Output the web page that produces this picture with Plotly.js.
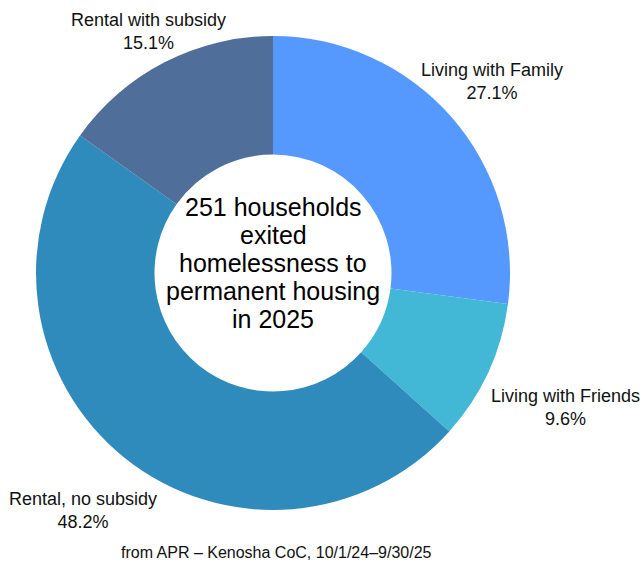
<!DOCTYPE html>
<html>
<head>
<meta charset="utf-8">
<script src="https://cdn.plot.ly/plotly-3.0.1.min.js"></script>
<style>html,body{margin:0;padding:0;background:#fff;}#chart{width:643px;height:563px;}</style>
</head>
<body>
<div id="chart"></div>
<script>
// ---- data ----
const categories = ["Living with Family", "Living with Friends", "Rental, no subsidy", "Rental with subsidy"];
const households = [68, 24, 121, 38];
const centerLines = ["251 households", "exited", "homelessness to", "permanent housing", "in 2025"];
const sourceNote = "from APR – Kenosha CoC, 10/1/24–9/30/25";

// ---- styling / layout ----
const sliceColors = ["#5599FF", "#42B8D6", "#2E8BBC", "#4F6E9A"];
const W = 643, H = 563;
const CX = 273, CY = 273, R = 237;            // donut centre & outer radius (px)
const labelDist = [291, 322, 304, 272];       // label centre distance from donut centre (px)
const FONT = "Liberation Sans, Arial, Helvetica, sans-serif";

const total = households.reduce((a, b) => a + b, 0);

const trace = {
  type: "pie",
  labels: categories,
  values: households,
  hole: 0.5,
  sort: false,
  direction: "clockwise",
  rotation: 0,
  marker: {colors: sliceColors, line: {width: 0}},
  textinfo: "none",
  hoverinfo: "label+percent",
  domain: {x: [(CX - R) / W, (CX + R) / W], y: [1 - (CY + R) / H, 1 - (CY - R) / H]}
};

const annotations = [];
// slice labels at the angular midpoint of each slice (computed from the data)
let cum = 0;
households.forEach((v, i) => {
  const mid = (cum + v / 2) / total * 2 * Math.PI;  // clockwise from 12 o'clock
  cum += v;
  const px = CX + labelDist[i] * Math.sin(mid);
  const py = CY - labelDist[i] * Math.cos(mid);
  annotations.push({
    text: categories[i] + "<br>" + (v / total * 100).toFixed(1) + "%",
    xref: "paper", yref: "paper", x: px / W, y: 1 - py / H,
    xanchor: "center", yanchor: "middle", align: "center", showarrow: false,
    font: {family: FONT, size: 18, color: "#111"}
  });
});
// centre text, one line each for tight spacing
centerLines.forEach((t, i) => {
  const py = CY - 10 + (i - 2) * 28;
  annotations.push({
    text: t, xref: "paper", yref: "paper", x: CX / W, y: 1 - py / H,
    xanchor: "center", yanchor: "middle", showarrow: false,
    font: {family: FONT, size: 25, color: "#000"}
  });
});
annotations.push({
  text: sourceNote, xref: "paper", yref: "paper", x: 276 / W, y: 1 - 552 / H,
  xanchor: "center", yanchor: "middle", showarrow: false,
  font: {family: FONT, size: 16, color: "#111"}
});

const layout = {
  width: W, height: H,
  margin: {l: 0, r: 0, t: 0, b: 0},
  showlegend: false,
  paper_bgcolor: "#fff",
  font: {family: FONT},
  annotations: annotations
};

Plotly.newPlot("chart", [trace], layout, {displayModeBar: false, staticPlot: true});
</script>
</body>
</html>
